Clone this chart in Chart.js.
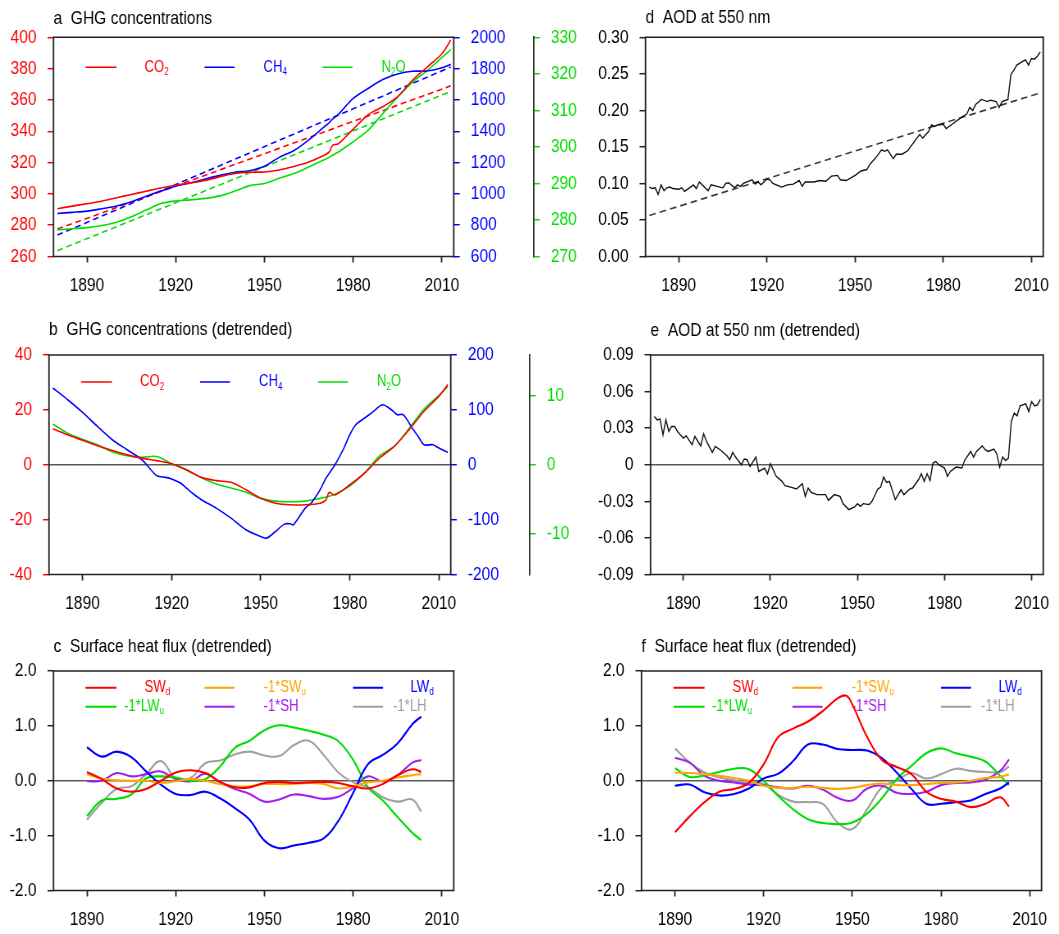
<!DOCTYPE html>
<html><head><meta charset="utf-8"><title>GHG, AOD and surface heat flux</title>
<script src="https://cdn.jsdelivr.net/npm/chart.js@4.4.1/dist/chart.umd.min.js"></script>
<style>
html,body{margin:0;padding:0;background:#fff;}
body{position:relative;width:1059px;height:934px;overflow:hidden;}
canvas{position:absolute;transform-origin:0 0;}
</style></head><body>
<canvas id="pa"></canvas>
<canvas id="pb"></canvas>
<canvas id="pc"></canvas>
<canvas id="pd"></canvas>
<canvas id="pe"></canvas>
<canvas id="pf"></canvas>
<script>
// ---------------- data ----------------
const yearTicks = [1890, 1920, 1950, 1980, 2010];

// a: GHG concentrations
const ghgYears = [1880,1885,1890,1895,1900,1905,1910,1915,1920,1925,1930,1935,1940,1945,1950,1955,1960,1965,1970,1972,1973,1975,1980,1985,1990,1995,2000,2005,2010,2013];
const co2 = [290.5,292.2,293.7,295.3,297.5,299.6,301.7,303.8,305.5,307.0,308.5,311.0,313.0,313.8,314.0,315.3,317.5,320.3,324.5,327.0,331.0,332.0,341.3,350.4,355.7,362.0,372.5,381.0,389.5,398.3];
const ch4 = [875,882,890,905,922,950,985,1018,1049,1070,1095,1118,1138,1148,1176,1233,1277,1345,1425,1457,1478,1508,1610,1673,1730,1766,1783,1785,1806,1827];
const n2o = [277.3,277.6,277.9,278.5,279.4,280.9,282.7,284.5,285.2,285.5,285.9,286.6,287.9,289.4,290.0,291.4,292.7,294.5,296.4,297.2,297.7,298.6,301.4,304.5,309.1,313.6,317.7,320.9,324.5,326.6];
const trendYears = [1880, 2013];
const co2Trend = [277.5, 369.0];
const ch4Trend = [737, 1810];
const n2oTrend = [271.6, 315.2];
const co2Ticks = [260,280,300,320,340,360,380,400];
const ch4Ticks = [600,800,1000,1200,1400,1600,1800,2000];
const n2oTicks = [270,280,290,300,310,320,330];

// b: GHG detrended
const co2d = [13.1,10.9,8.9,6.9,5.2,3.6,2.4,1.5,0.4,-1.8,-4.6,-5.8,-6.4,-9.1,-12.2,-14.0,-14.6,-14.6,-14.0,-12.8,-10.1,-11.0,-7.3,-3.0,2.4,6.7,12.8,19.5,24.9,29.2];
const n2od = [5.94,4.6,3.7,2.9,1.9,1.3,1.1,1.2,0.14,-0.8,-1.9,-2.8,-3.4,-4.0,-4.9,-5.3,-5.4,-5.3,-4.9,-4.7,-4.6,-4.3,-3.1,-1.2,1.3,2.7,5.3,8.1,10.1,11.4];
const ch4dYears = [1880,1885,1890,1895,1900,1905,1910,1913,1915,1918,1920,1923,1925,1927,1930,1935,1940,1945,1950,1952,1955,1958,1960,1961,1965,1967,1970,1972,1975,1978,1980,1982,1985,1988,1991,1994,1996,1998,2001,2003,2005,2008,2010,2013];
const ch4d = [139.8,118.5,95.4,69.9,45.6,27.4,9.1,-9.1,-20,-23,-26,-33.4,-42.6,-51.7,-63.8,-79,-97.3,-118.5,-130.7,-133.7,-121.6,-108.2,-107.6,-109.4,-79,-70,-45.6,-24.3,0,30.4,54.7,72.9,85.1,97.3,109.4,100.3,91.2,91.2,66.9,51.7,36.5,36.5,30.4,22.5];
const co2dTicks = [-40,-20,0,20,40];
const ch4dTicks = [-200,-100,0,100,200];
const n2odTicks = [-10,0,10];

// c, f: surface heat flux (detrended)
const fluxYears = [1890,1895,1900,1905,1910,1915,1920,1925,1930,1935,1940,1945,1950,1955,1960,1965,1970,1975,1980,1985,1990,1995,2000,2003];
const cSWd = [0.16,0.03,-0.14,-0.2,-0.15,0.0,0.15,0.19,0.14,-0.02,-0.12,-0.12,-0.04,-0.02,-0.04,-0.03,-0.02,-0.04,-0.1,-0.14,-0.06,0.1,0.21,0.16];
const cSWu = [0.12,0.04,0.01,0,0,-0.04,-0.01,0.03,0,-0.06,-0.1,-0.1,-0.06,-0.06,-0.06,-0.04,-0.06,-0.14,-0.1,-0.03,0,0.06,0.1,0.12];
const cLWd = [0.61,0.44,0.53,0.43,0.17,-0.07,-0.24,-0.26,-0.2,-0.32,-0.5,-0.71,-1.09,-1.23,-1.18,-1.13,-1.05,-0.73,-0.22,0.3,0.47,0.68,1.03,1.17];
const cLWu = [-0.64,-0.36,-0.33,-0.25,0.04,0.08,0.06,0.0,0.03,0.26,0.6,0.73,0.92,1.01,0.97,0.91,0.84,0.72,0.38,-0.12,-0.36,-0.66,-0.95,-1.08];
const cSH = [-0.01,0.0,0.14,0.08,0.12,0.17,0.03,-0.01,0.13,-0.03,-0.15,-0.24,-0.38,-0.34,-0.25,-0.28,-0.33,-0.29,-0.13,0.08,-0.01,0.1,0.33,0.38];
const cLH = [-0.71,-0.4,-0.15,-0.1,0.12,0.36,0.04,0.05,0.32,0.37,0.48,0.53,0.46,0.45,0.65,0.73,0.47,0.15,-0.03,-0.12,-0.3,-0.38,-0.34,-0.56];

const fSWdYears = [1890,1895,1900,1905,1910,1915,1920,1925,1930,1935,1940,1945,1948,1950,1955,1960,1965,1970,1975,1980,1985,1990,1995,2000,2003];
const fSWd = [-0.94,-0.65,-0.39,-0.2,-0.15,-0.04,0.3,0.8,0.95,1.08,1.27,1.5,1.55,1.39,0.8,0.38,0.25,0.12,-0.2,-0.33,-0.38,-0.48,-0.42,-0.3,-0.47];
const fSWu = [0.15,0.14,0.12,0.09,0.05,0.0,-0.09,-0.13,-0.13,-0.11,-0.13,-0.15,-0.13,-0.08,-0.05,-0.08,-0.08,-0.06,-0.04,-0.03,0.0,0.05,0.07,0.12];
const fLWd = [-0.09,-0.07,-0.21,-0.27,-0.24,-0.14,0.04,0.13,0.36,0.66,0.66,0.58,0.56,0.55,0.41,0.15,-0.15,-0.42,-0.42,-0.39,-0.36,-0.24,-0.14,-0.03];
const fLWu = [0.23,0.07,0.1,0.16,0.22,0.21,0.0,-0.28,-0.52,-0.7,-0.77,-0.79,-0.76,-0.6,-0.32,0.03,0.27,0.5,0.59,0.5,0.44,0.35,0.09,-0.08];
const fSH = [0.42,0.33,0.09,0.0,-0.03,-0.07,-0.08,-0.12,-0.14,-0.09,-0.16,-0.31,-0.36,-0.14,-0.09,-0.22,-0.24,-0.2,-0.08,-0.04,-0.03,0.02,0.18,0.39];
const fLH = [0.59,0.33,0.15,0.06,0.01,-0.03,-0.06,-0.26,-0.38,-0.39,-0.42,-0.76,-0.88,-0.52,-0.12,0.0,0.14,0.04,0.12,0.22,0.18,0.16,0.16,0.26];
const fluxTicks = [-2,-1,0,1,2];
const fluxTickLabels = ['-2.0','-1.0','0.0','1.0','2.0'];

// d: AOD at 550 nm
const aodYears = [1880,1881,1882,1883,1884,1885,1886,1887,1888,1890,1891,1892,1894,1895,1896,1897,1898,1900,1901,1903,1905,1906,1907,1909,1910,1911,1912,1915,1916,1917,1918,1920,1921,1922,1925,1927,1929,1931,1932,1933,1936,1938,1940,1942,1944,1945,1947,1950,1952,1954,1955,1957,1959,1960,1961,1963,1964,1966,1968,1969,1971,1972,1973,1975,1976,1977,1978,1980,1981,1983,1985,1986,1988,1989,1990,1991,1993,1995,1996,1998,1999,2000,2002,2003,2004,2005,2007,2008,2009,2010,2011,2012,2013];
const aod = [0.095,0.093,0.094,0.085,0.098,0.090,0.094,0.095,0.093,0.092,0.094,0.089,0.095,0.098,0.093,0.102,0.098,0.090,0.098,0.096,0.094,0.100,0.101,0.094,0.098,0.096,0.100,0.105,0.099,0.102,0.098,0.106,0.105,0.100,0.095,0.098,0.099,0.104,0.096,0.102,0.102,0.104,0.103,0.110,0.111,0.105,0.104,0.111,0.117,0.119,0.126,0.135,0.146,0.144,0.146,0.134,0.140,0.140,0.145,0.151,0.162,0.167,0.162,0.171,0.180,0.178,0.180,0.181,0.175,0.181,0.187,0.190,0.195,0.204,0.200,0.208,0.215,0.212,0.214,0.212,0.204,0.212,0.215,0.249,0.255,0.262,0.267,0.269,0.262,0.271,0.270,0.274,0.280];
const aodTrend = [0.056, 0.224];
const aodTicks = [0,0.05,0.10,0.15,0.20,0.25,0.30];
const aodTickLabels = ['0.00','0.05','0.10','0.15','0.20','0.25','0.30'];

// e: AOD detrended
const aodDYears = [1880,1881,1882,1883,1884,1885,1886,1887,1888,1890,1891,1893,1894,1896,1897,1898,1900,1901,1903,1905,1906,1907,1908,1910,1911,1912,1913,1915,1916,1918,1919,1920,1922,1924,1925,1927,1929,1931,1932,1933,1934,1936,1939,1940,1942,1944,1945,1947,1949,1950,1951,1952,1954,1955,1957,1958,1959,1960,1961,1963,1965,1966,1968,1969,1971,1972,1973,1974,1975,1976,1977,1978,1980,1981,1982,1984,1986,1987,1989,1990,1991,1993,1994,1995,1997,1998,1999,2000,2001,2002,2003,2004,2005,2006,2008,2009,2010,2011,2012,2013];
const aodD = [0.0395,0.0368,0.0374,0.0245,0.0368,0.0273,0.0314,0.0314,0.0273,0.0218,0.0237,0.0164,0.0232,0.0155,0.0254,0.0191,0.0101,0.0150,0.0117,0.0074,0.0041,0.0101,0.0063,0.0000,0.0046,0.0041,-0.0014,0.0063,-0.0055,-0.0027,-0.0074,0.0008,-0.0095,-0.0136,-0.0172,-0.0183,-0.0199,-0.0155,-0.0259,-0.0191,-0.0226,-0.0245,-0.0245,-0.0292,-0.0245,-0.0259,-0.0319,-0.0368,-0.0346,-0.0319,-0.0341,-0.0319,-0.0327,-0.0300,-0.0199,-0.0183,-0.0101,-0.0145,-0.0136,-0.0286,-0.0205,-0.0245,-0.0199,-0.0191,-0.0123,-0.0074,-0.0136,-0.0074,-0.0128,0.0014,0.0027,0.0000,-0.0027,-0.0095,-0.0055,-0.0019,-0.0027,0.0041,0.0109,0.0063,0.0109,0.0155,0.0123,0.0109,0.0128,0.0090,-0.0019,0.0063,0.0035,0.0055,0.0355,0.0423,0.0401,0.0483,0.0499,0.0436,0.0518,0.0483,0.0491,0.0537];
const aodDTicks = [-0.09,-0.06,-0.03,0,0.03,0.06,0.09];
const aodDTickLabels = ['-0.09','-0.06','-0.03','0','0.03','0.06','0.09'];

// ---------------- style ----------------
// The original uses a narrow Helvetica; canvases are drawn wider and squeezed horizontally by S.
const S = 0.82;
const px = v => v / S;
const FAM = "'Liberation Sans', Arial, sans-serif";
Chart.defaults.font.family = FAM;
Chart.defaults.font.size = 19;
Chart.defaults.color = '#000';
const RED = '#ff0000', BLUE = '#0000ff', GREEN = '#00dd00', ORANGE = '#ffa500',
      PURPLE = '#a020f0', GRAY = '#a0a0a0', BLACK = '#111111', FRAME = '#222222';
const X_MIN = 1878.7, X_MAX = 2014;

function setupCanvas(id, left, top, w, h) {
  const c = document.getElementById(id);
  const cw = Math.round(px(w));
  c.width = cw; c.height = h;
  c.style.left = left + 'px'; c.style.top = top + 'px';
  c.style.width = cw + 'px'; c.style.height = h + 'px';
  c.style.transform = 'scaleX(' + S + ')';
  return c;
}

function pts(xs, ys) { return xs.map((x, i) => ({ x: x, y: ys[i] })); }
function series(label, xs, ys, color, axis, extra) {
  return Object.assign({ label: label, data: pts(xs, ys), borderColor: color, backgroundColor: color,
    borderWidth: 1.6, pointRadius: 0, fill: false, yAxisID: axis || 'y', tension: 0 }, extra || {});
}
function xScale(h) {
  return {
    type: 'linear', position: 'bottom', min: X_MIN, max: X_MAX,
    afterBuildTicks: s => { s.ticks = yearTicks.map(v => ({ value: v })); },
    afterFit: s => { s.height = h; },
    ticks: { color: '#000', padding: 12, maxRotation: 0, autoSkip: false, callback: v => String(v) },
    grid: { display: true, drawOnChartArea: false, drawTicks: true, tickLength: 6, tickColor: FRAME, tickWidth: px(1.5) },
    border: { display: false }
  };
}
function yScale(o) {
  return {
    type: 'linear', position: o.pos, min: o.min, max: o.max, weight: o.weight || 0,
    afterBuildTicks: s => { s.ticks = o.ticks.map(v => ({ value: v })); },
    afterFit: s => { s.width = px(o.width); },
    ticks: { color: o.color, padding: px(11), autoSkip: false,
      callback: (v, i) => (o.labels ? o.labels[i] : String(v)) },
    grid: { display: true, drawOnChartArea: !!o.zero,
      color: ctx => (o.zero && ctx.tick && ctx.tick.value === 0) ? '#5a5a5a' : 'rgba(0,0,0,0)',
      lineWidth: 1.4, drawTicks: true, tickLength: px(6), tickColor: o.tickColor || o.color, tickWidth: 1.5 },
    border: { display: !!o.border, color: '#333', width: px(1.5) }
  };
}

// panel decorations: frame, title, legend (offsets in page pixels from the plot's left/top)
const PANELS = {};
const ghgLegend = (rowY) => ({ rows: [rowY], lw: 1.5, items: [
  { parts: [['CO', 0], ['2', 1]], color: RED, line: [32, 63], tx: 91, row: 0 },
  { parts: [['CH', 0], ['4', 1]], color: BLUE, line: [151, 181], tx: 210, row: 0 },
  { parts: [['N', 0], ['2', 1], ['O', 0]], color: GREEN, line: [269, 299], tx: 328, row: 0 } ] });
const fluxLegend = { rows: [16.7, 35.7], lw: 2, items: [
  { parts: [['SW', 0], ['d', 1]], color: RED, line: [32, 63], tx: 91, row: 0 },
  { parts: [['-1*SW', 0], ['u', 1]], color: ORANGE, line: [151, 181], tx: 210, row: 0 },
  { parts: [['LW', 0], ['d', 1]], color: BLUE, line: [299.5, 329.5], tx: 357, row: 0 },
  { parts: [['-1*LW', 0], ['u', 1]], color: GREEN, line: [32, 63], tx: 70.5, row: 1 },
  { parts: [['-1*SH', 0]], color: PURPLE, line: [151, 181], tx: 210, row: 1 },
  { parts: [['-1*LH', 0]], color: GRAY, line: [299.5, 329.5], tx: 339.5, row: 1 } ] };
PANELS.pa = { title: 'a  GHG concentrations', dy: 13.5, legend: ghgLegend(30) };
PANELS.pb = { title: 'b  GHG concentrations (detrended)', dy: 20.5, legend: ghgLegend(27) };
PANELS.pc = { title: 'c  Surface heat flux (detrended)', dy: 18.7, legend: fluxLegend };
PANELS.pd = { title: 'd  AOD at 550 nm', dy: 14 };
PANELS.pe = { title: 'e  AOD at 550 nm (detrended)', dy: 19.3 };
PANELS.pf = { title: 'f  Surface heat flux (detrended)', dy: 18.7, legend: fluxLegend };

const panelPlugin = {
  id: 'panelDeco',
  beforeDatasetsDraw(chart) {
    const spec = PANELS[chart.canvas.id];
    if (!spec || !spec.legend) return;
    const { ctx, chartArea: a } = chart;
    const L = spec.legend;
    ctx.save();
    for (const it of L.items) {
      const y = a.top + L.rows[it.row];
      ctx.strokeStyle = it.color; ctx.lineWidth = L.lw;
      ctx.beginPath(); ctx.moveTo(a.left + px(it.line[0]), y); ctx.lineTo(a.left + px(it.line[1]), y); ctx.stroke();
      let x = a.left + px(it.tx);
      ctx.fillStyle = it.color; ctx.textBaseline = 'middle'; ctx.textAlign = 'left';
      for (const [txt, sub] of it.parts) {
        ctx.font = (sub ? '10px ' : '16px ') + FAM;
        ctx.fillText(txt, x, sub ? y + 5 : y);
        x += ctx.measureText(txt).width;
      }
    }
    ctx.restore();
  },
  afterDraw(chart) {
    const spec = PANELS[chart.canvas.id];
    const { ctx, chartArea: a } = chart;
    ctx.save();
    ctx.strokeStyle = FRAME;
    ctx.lineWidth = 1.5;
    ctx.beginPath();
    ctx.moveTo(a.left, a.top); ctx.lineTo(a.right, a.top);
    ctx.moveTo(a.left, a.bottom); ctx.lineTo(a.right, a.bottom);
    ctx.stroke();
    ctx.lineWidth = px(1.5);
    ctx.beginPath();
    ctx.moveTo(a.left, a.top - 0.75); ctx.lineTo(a.left, a.bottom + 0.75);
    ctx.moveTo(a.right, a.top - 0.75); ctx.lineTo(a.right, a.bottom + 0.75);
    ctx.stroke();
    if (spec) {
      ctx.fillStyle = '#000'; ctx.font = '19px ' + FAM;
      ctx.textBaseline = 'alphabetic'; ctx.textAlign = 'left';
      ctx.fillText(spec.title, a.left, a.top - spec.dy);
    }
    ctx.restore();
  }
};
Chart.register(panelPlugin);

function opts(padTop, padRight, scales) {
  return { responsive: false, animation: false, devicePixelRatio: 1, events: [],
    layout: { padding: { top: padTop, right: px(padRight), left: 0, bottom: 0 } },
    plugins: { legend: { display: false }, tooltip: { enabled: false } },
    scales: scales };
}
const dash = { borderDash: [7, 4.5] };
const smooth = { tension: 0.3 };
const fluxStyle = { borderWidth: 2.1, tension: 0.4 };

// a
new Chart(setupCanvas('pa', 0, 0, 600, 312), { type: 'line',
  data: { datasets: [
    series('CO2', ghgYears, co2, RED, 'y', smooth),
    series('CH4', ghgYears, ch4, BLUE, 'y2', smooth),
    series('N2O', ghgYears, n2o, GREEN, 'y3', smooth),
    series('CO2 trend', trendYears, co2Trend, RED, 'y', dash),
    series('CH4 trend', trendYears, ch4Trend, BLUE, 'y2', dash),
    series('N2O trend', trendYears, n2oTrend, GREEN, 'y3', dash) ] },
  options: opts(37.3, 0, {
    x: xScale(55.5),
    y: yScale({ pos: 'left', min: 260, max: 400, ticks: co2Ticks, color: RED, width: 53.5 }),
    y2: yScale({ pos: 'right', weight: 1, min: 600, max: 2000, ticks: ch4Ticks, color: BLUE, width: 80 }),
    y3: yScale({ pos: 'right', weight: 2, min: 270, max: 330, ticks: n2oTicks, color: GREEN, width: 66.5, border: true })
  }) });

// b
new Chart(setupCanvas('pb', 0, 312, 600, 308), { type: 'line',
  data: { datasets: [
    series('CO2', ghgYears, co2d, RED, 'y', smooth),
    series('CH4', ch4dYears, ch4d, BLUE, 'y2', smooth),
    series('N2O', ghgYears, n2od, GREEN, 'y3', smooth) ] },
  options: opts(43, 0, {
    x: xScale(45.5),
    y: yScale({ pos: 'left', min: -40, max: 40, ticks: co2dTicks, color: RED, width: 49, zero: true }),
    y2: yScale({ pos: 'right', weight: 1, min: -200, max: 200, ticks: ch4dTicks, color: BLUE, width: 79 }),
    y3: yScale({ pos: 'right', weight: 2, min: -16, max: 16, ticks: n2odTicks, color: GREEN, width: 70.5, border: true })
  }) });

// c
new Chart(setupCanvas('pc', 0, 620, 600, 314), { type: 'line',
  data: { datasets: [
    series('SWd', fluxYears, cSWd, RED, 'y', fluxStyle),
    series('-1*SWu', fluxYears, cSWu, ORANGE, 'y', fluxStyle),
    series('LWd', fluxYears, cLWd, BLUE, 'y', fluxStyle),
    series('-1*LWu', fluxYears, cLWu, GREEN, 'y', fluxStyle),
    series('-1*SH', fluxYears, cSH, PURPLE, 'y', fluxStyle),
    series('-1*LH', fluxYears, cLH, GRAY, 'y', fluxStyle) ] },
  options: opts(51, 146.5, {
    x: xScale(43.5),
    y: yScale({ pos: 'left', min: -2, max: 2, ticks: fluxTicks, labels: fluxTickLabels, color: '#000', tickColor: FRAME, width: 53.5, zero: true })
  }) });

// d
new Chart(setupCanvas('pd', 590, 0, 469, 312), { type: 'line',
  data: { datasets: [
    series('AOD', aodYears, aod, BLACK, 'y', { borderWidth: 1.4 }),
    series('AOD trend', trendYears, aodTrend, '#3a3a3a', 'y', { borderWidth: 1.6, borderDash: [8, 5] }) ] },
  options: opts(37.3, 14, {
    x: xScale(55.5),
    y: yScale({ pos: 'left', min: 0, max: 0.30, ticks: aodTicks, labels: aodTickLabels, color: '#000', tickColor: FRAME, width: 55.5 })
  }) });

// e
new Chart(setupCanvas('pe', 590, 312, 469, 308), { type: 'line',
  data: { datasets: [ series('AOD detrended', aodDYears, aodD, BLACK, 'y', { borderWidth: 1.4 }) ] },
  options: opts(43, 8.5, {
    x: xScale(45.5),
    y: yScale({ pos: 'left', min: -0.09, max: 0.09, ticks: aodDTicks, labels: aodDTickLabels, color: '#000', tickColor: FRAME, width: 60.5, zero: true })
  }) });

// f
new Chart(setupCanvas('pf', 590, 620, 469, 314), { type: 'line',
  data: { datasets: [
    series('SWd', fSWdYears, fSWd, RED, 'y', fluxStyle),
    series('-1*SWu', fluxYears, fSWu, ORANGE, 'y', fluxStyle),
    series('LWd', fluxYears, fLWd, BLUE, 'y', fluxStyle),
    series('-1*LWu', fluxYears, fLWu, GREEN, 'y', fluxStyle),
    series('-1*SH', fluxYears, fSH, PURPLE, 'y', fluxStyle),
    series('-1*LH', fluxYears, fLH, GRAY, 'y', fluxStyle) ] },
  options: opts(51, 17.5, {
    x: xScale(43.5),
    y: yScale({ pos: 'left', min: -2, max: 2, ticks: fluxTicks, labels: fluxTickLabels, color: '#000', tickColor: FRAME, width: 51.5, zero: true })
  }) });
</script></body></html>
